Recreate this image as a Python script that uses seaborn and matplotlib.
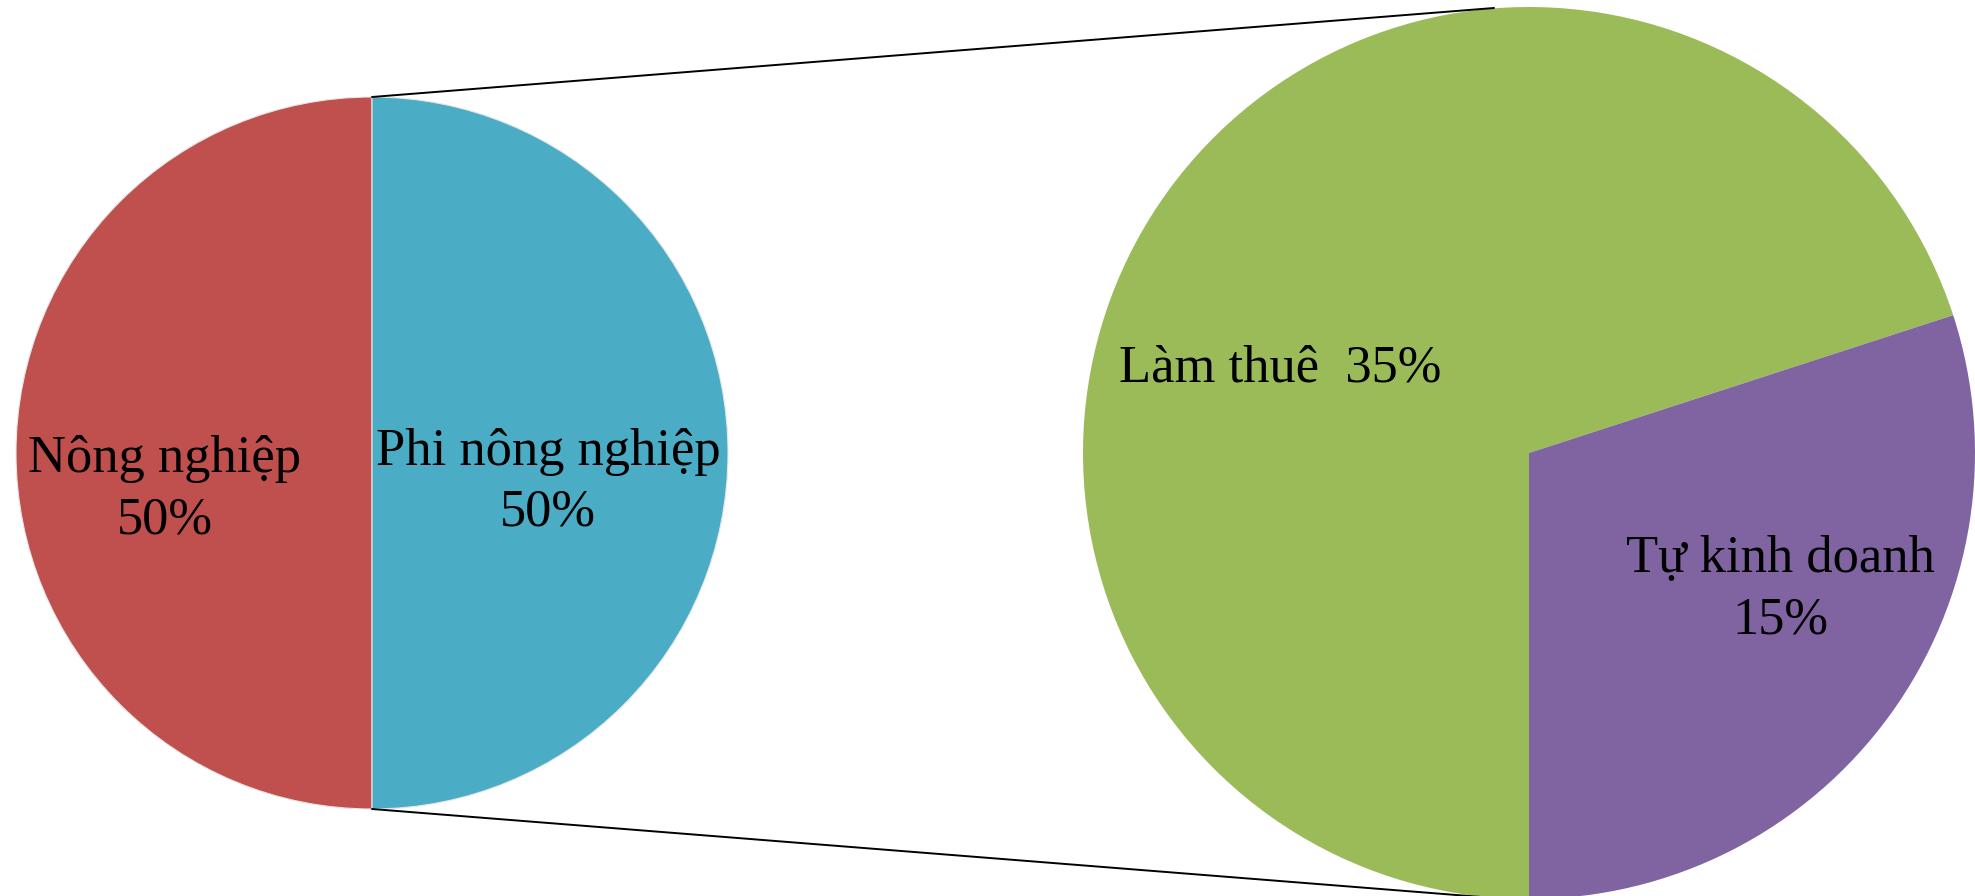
import matplotlib
matplotlib.use('Agg')
import matplotlib.pyplot as plt
import seaborn as sns

# data
main_labels = ['Nông nghiệp', 'Phi nông nghiệp']
main_values = [50, 50]
sub_labels = ['Làm thuê', 'Tự kinh doanh']
sub_values = [35, 15]

main_colors = ['#C0504D', '#4BACC6']
sub_colors = ['#9BBB59', '#8064A2']

sns.set_theme(style='white')
plt.rcParams['font.family'] = ['Liberation Serif', 'DejaVu Serif']

W, H = 1975, 896
fig = plt.figure(figsize=(W / 100, H / 100), dpi=100)


def px_axes(cx, cy, r):
    # axes box in figure pixels (y measured from the top)
    return fig.add_axes([(cx - r) / W, (H - (cy + r)) / H, 2 * r / W, 2 * r / H])


# left pie
c1, r1 = (372, 453), 356
ax1 = px_axes(c1[0], c1[1], r1)
ax1.pie(main_values, colors=main_colors, startangle=-90, counterclock=False,
        wedgeprops=dict(edgecolor='#e6e6e6', linewidth=0.8))
ax1.set_xlim(-1, 1)
ax1.set_ylim(-1, 1)
ax1.axis('off')

# right pie (breakdown of the non-farm share)
c2, r2 = (1529, 453), 446
ax2 = px_axes(c2[0], c2[1], r2)
ax2.pie(sub_values, colors=sub_colors, startangle=-90, counterclock=False,
        wedgeprops=dict(linewidth=0))
ax2.set_xlim(-1, 1)
ax2.set_ylim(-1, 1)
ax2.axis('off')

# overlay in pixel coords for connector lines and labels
ov = fig.add_axes([0, 0, 1, 1])
ov.set_xlim(0, W)
ov.set_ylim(H, 0)
ov.axis('off')
ov.plot([c1[0], 1494], [c1[1] - r1, 8], color='black', lw=1.4)
ov.plot([c1[0], 1494], [c1[1] + r1, 898], color='black', lw=1.4)

labels = [f'{n}\n{v}%' for n, v in zip(main_labels, main_values)]
labels += [f'{sub_labels[0]}  {sub_values[0]}%', f'{sub_labels[1]}\n{sub_values[1]}%']
label_pos = [(165, 472), (548, 465), (1280, 382), (1780, 572)]
gap = 61
for text, (x, y) in zip(labels, label_pos):
    for i, line in enumerate(text.split('\n')):
        ov.text(x, y + i * gap, line, ha='center', va='baseline',
                fontsize=37.8, color='black')

fig.savefig('out.png', dpi=100)
